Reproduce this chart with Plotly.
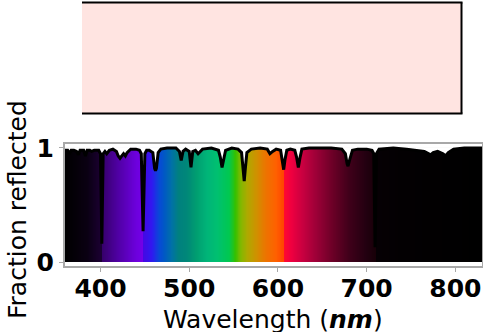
import numpy as np
import plotly.graph_objects as go

# Reflectance spectrum: wavelength (nm) and fraction reflected
wavelength_nm = [
    360, 363, 365, 367, 370, 373, 375, 377, 381, 383, 385, 388, 390, 393, 398,
    400, 401.5, 403, 405, 407, 410, 414, 418, 420, 422, 424, 426, 428, 430, 434,
    440, 444, 446, 448, 450, 452, 455, 457, 459, 461, 462, 463, 465, 468, 475,
    485, 489, 491, 493, 496, 500, 502, 504, 507, 510, 515, 525, 533, 535, 537,
    539, 541, 548, 555, 559, 561, 562, 563, 565, 570, 580, 588, 591, 594, 598,
    603, 605, 606.5, 608, 610, 614, 619, 621, 623, 625, 627, 635, 660, 672, 676,
    678, 679, 681, 684, 690, 700, 706, 708, 709.5, 711, 714, 730, 745, 755, 765,
    770, 772, 775, 780, 786, 789, 792, 798, 810, 830,
]
reflectance = [
    0.98, 0.98, 0.95, 0.98, 0.98, 0.97, 0.94, 0.98, 0.98, 0.93, 0.98, 0.98, 0.97, 0.98, 0.98,
    0.95, 0.16, 0.95, 0.97, 0.95, 0.98, 0.99, 0.97, 0.93, 0.91, 0.93, 0.95, 0.93, 0.96, 0.99,
    0.99, 0.98, 0.95, 0.27, 0.95, 0.98, 0.98, 0.97, 0.96, 0.82, 0.80, 0.82, 0.96, 0.99, 1.00,
    1.00, 0.97, 0.89, 0.97, 0.99, 0.97, 0.83, 0.97, 0.98, 0.95, 0.99, 1.00, 0.98, 0.92, 0.83,
    0.92, 0.98, 1.00, 0.99, 0.96, 0.80, 0.71, 0.80, 0.96, 0.99, 1.00, 0.99, 0.95, 0.97, 0.99,
    0.98, 0.90, 0.81, 0.90, 0.98, 0.99, 0.98, 0.92, 0.83, 0.92, 0.99, 1.00, 1.00, 0.99, 0.95,
    0.86, 0.84, 0.90, 0.98, 0.99, 0.99, 0.98, 0.95, 0.13, 0.95, 0.99, 1.00, 0.99, 0.98, 0.97,
    0.95, 0.94, 0.96, 0.97, 0.95, 0.93, 0.96, 0.99, 1.00, 1.00,
]

# Colour of light at each wavelength (background under the curve)
spectrum_nm = [
    360, 385, 401.8, 402.2, 420, 440, 447.8, 448.2, 458, 466, 472, 480, 488, 498,
    508, 520, 532, 545, 552, 558, 566, 576, 586, 598, 606.8, 607.2, 615, 628, 642,
    660, 680, 700, 709.8, 710.2, 740, 830,
]
spectrum_colors = [
    "#000000", "#0a0012", "#1c0034", "#36006c", "#5000a4", "#6c00dc", "#7400e8",
    "#4408e4", "#3018f0", "#0848d8", "#0058c4", "#0070a8", "#00807f", "#008878",
    "#009e70", "#00b478", "#00c070", "#00c850", "#34c000", "#80b800", "#b0a800",
    "#d09000", "#ec7400", "#ff6000", "#ff4400", "#ff0a30", "#f00040", "#c80040",
    "#a00038", "#700028", "#40001a", "#220010", "#180008", "#060004", "#030002",
    "#000000",
]

x_ticks = [400, 500, 600, 700, 800]
y_ticks = [0, 1]
swatch_color = "#ffe4e1"

W, H = 483, 332
lo, hi = 360, 830
FONT = "DejaVu Sans"
SPINE = "#a8a8a8"

edges = np.arange(lo, hi + 0.25, 0.5)
centers = (edges[:-1] + edges[1:]) / 2
colorscale = [[(nm - lo) / (hi - lo), c] for nm, c in zip(spectrum_nm, spectrum_colors)]
top_level = max(reflectance)

fig = go.Figure()

# spectral colour band from 0 to 1
fig.add_trace(go.Heatmap(
    x=edges, y=[0, top_level], z=[centers.tolist()],
    zmin=lo, zmax=hi, colorscale=colorscale, showscale=False, hoverinfo="skip",
))
# white above the reflectance curve
fig.add_trace(go.Scatter(
    x=wavelength_nm, y=reflectance, mode="lines", line=dict(width=0),
    showlegend=False, hoverinfo="skip",
))
fig.add_trace(go.Scatter(
    x=wavelength_nm, y=[top_level] * len(wavelength_nm), mode="lines",
    line=dict(width=0), fill="tonexty", fillcolor="white",
    showlegend=False, hoverinfo="skip",
))
# reflectance curve
fig.add_trace(go.Scatter(
    x=wavelength_nm, y=reflectance, mode="lines",
    line=dict(color="black", width=3), showlegend=False, hoverinfo="skip",
))

def px_x(v):
    return v / W

def px_y(v):
    return 1 - v / H

tick_font = dict(family=FONT, size=25, color="black", weight="bold")

fig.update_layout(
    template="none",
    width=W, height=H,
    margin=dict(l=0, r=0, t=0, b=0, pad=0),
    paper_bgcolor="white", plot_bgcolor="white",
    showlegend=False,
    xaxis=dict(
        domain=[px_x(65), px_x(482)], range=[lo, hi], automargin=False,
        tickvals=x_ticks, ticktext=[str(t) for t in x_ticks],
        ticks="outside", ticklen=4, tickwidth=1, tickcolor=SPINE,
        ticklabelstandoff=-5,
        showline=True, linecolor=SPINE, linewidth=2, mirror=True,
        showgrid=False, zeroline=False, tickfont=tick_font,
    ),
    yaxis=dict(
        domain=[px_y(266), px_y(144)], range=[-0.035, 1.035], automargin=False,
        tickvals=y_ticks, ticktext=[str(t) for t in y_ticks],
        ticks="outside", ticklen=4, tickwidth=1, tickcolor=SPINE,
        showline=True, linecolor=SPINE, linewidth=2, mirror=True,
        showgrid=False, zeroline=False, tickfont=tick_font,
    ),
    shapes=[
        # colour swatch
        dict(type="rect", xref="paper", yref="paper",
             x0=px_x(82), x1=px_x(461.5), y0=px_y(113.5), y1=px_y(2.5),
             fillcolor=swatch_color, line=dict(width=0), layer="below"),
        dict(type="line", xref="paper", yref="paper",
             x0=px_x(82), x1=px_x(462.5), y0=px_y(2.5), y1=px_y(2.5),
             line=dict(color="black", width=2)),
        dict(type="line", xref="paper", yref="paper",
             x0=px_x(82), x1=px_x(462.5), y0=px_y(113.5), y1=px_y(113.5),
             line=dict(color="black", width=2)),
        dict(type="line", xref="paper", yref="paper",
             x0=px_x(461.5), x1=px_x(461.5), y0=px_y(113.5), y1=px_y(2.5),
             line=dict(color="black", width=2)),
    ],
    annotations=[
        dict(text="Wavelength (<b><i>nm</i></b>)", xref="paper", yref="paper",
             x=px_x(273), y=px_y(319), xanchor="center", yanchor="middle",
             showarrow=False, font=dict(family=FONT, size=25, color="black")),
        dict(text="Fraction reflected", xref="paper", yref="paper",
             x=px_x(17), y=px_y(210), xanchor="center", yanchor="middle",
             textangle=-90, showarrow=False,
             font=dict(family=FONT, size=25, color="black")),
    ],
)

fig.write_html("out.html", config={"displayModeBar": False})
